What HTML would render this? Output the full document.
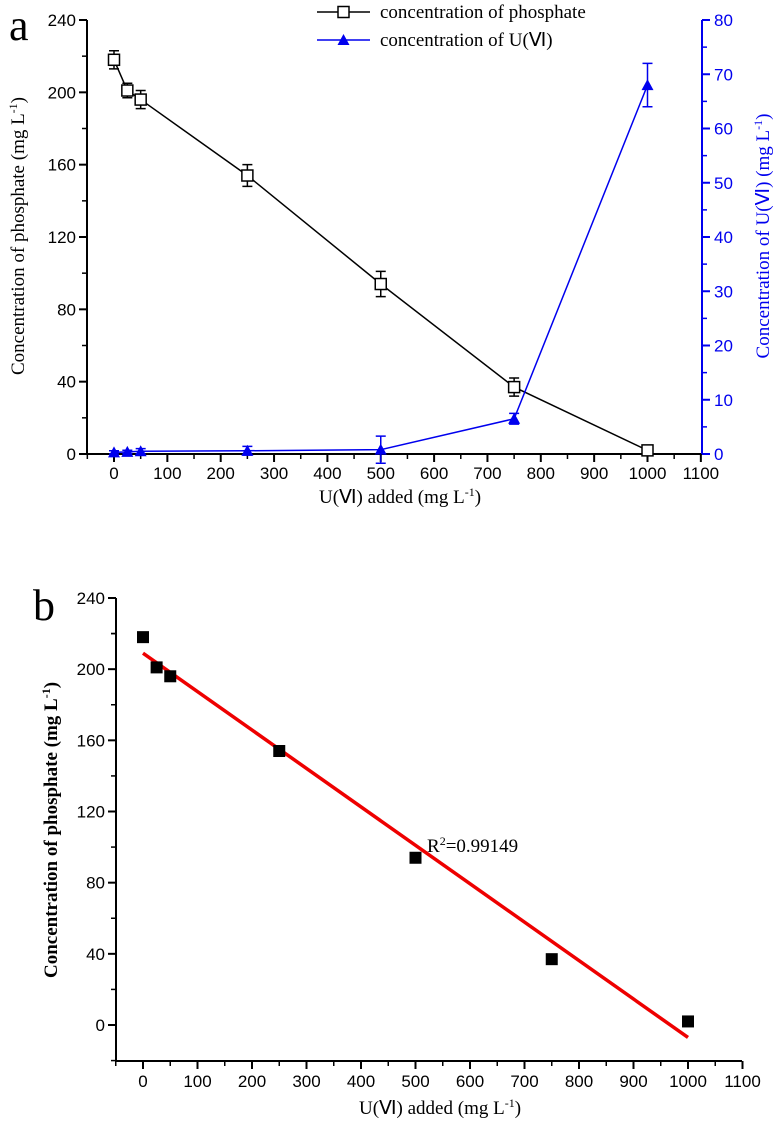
<!DOCTYPE html>
<html><head><meta charset="utf-8">
<style>
body{margin:0;background:#fff;}
svg{display:block;}
.tk{font-family:"Liberation Sans",Arial,sans-serif;font-size:17px;}
.ti{font-family:"Liberation Serif",serif;font-size:19px;}
</style></head>
<body>
<svg id="svg" width="778" height="1141" viewBox="0 0 778 1141"></svg>
<script>
const xCats=[0,25,50,250,500,750,1000];
const phosphate=[218,201,196,154,94,37,2];
const phosErr=[5,4,5,6,7,5,1];
const uranium=[0.3,0.4,0.5,0.6,0.8,6.5,68];
const uErr=[0.3,0.3,0.5,0.8,2.5,1,4];
const xTicks=[0,100,200,300,400,500,600,700,800,900,1000,1100];
const yTicks=[0,40,80,120,160,200,240];
const y2Ticks=[0,10,20,30,40,50,60,70,80];
const regStart=[0,209];
const regEnd=[1000,-7];
const r2Label="0.99149";

const NS="http://www.w3.org/2000/svg";
const svg=document.getElementById('svg');
function el(tag,attrs,parent){const e=document.createElementNS(NS,tag);for(const k in attrs)e.setAttribute(k,attrs[k]);(parent||svg).appendChild(e);return e;}

// ---- Chart a ----
const A={x0:114,xs:53.35/100,yb:454,ys:434/240,ys2:434/80,left:87,right:702};
const ax=v=>A.x0+v*A.xs, ay=v=>A.yb-v*A.ys, ay2=v=>A.yb-v*A.ys2;
const ga=el('g',{});


let t=el('text',{x:9,y:40,'font-family':'Liberation Serif,serif','font-size':44},ga);t.textContent='a';

let l=el('line',{x1:A.left,y1:ay(240),x2:A.left,y2:A.yb,stroke:'#000','stroke-width':2},ga);

l=el('line',{x1:A.left,y1:A.yb,x2:A.right,y2:A.yb,stroke:'#000','stroke-width':2},ga);

l=el('line',{x1:A.right,y1:ay(240),x2:A.right,y2:A.yb,stroke:'#0000ee','stroke-width':2},ga);

yTicks.forEach((v,i)=>{el('line',{x1:A.left-8,y1:ay(v),x2:A.left,y2:ay(v),stroke:'#000','stroke-width':2},ga);
 if(i<yTicks.length-1)el('line',{x1:A.left-5,y1:ay(v+20),x2:A.left,y2:ay(v+20),stroke:'#000','stroke-width':1.5},ga);
 const tx=el('text',{x:A.left-11,y:ay(v)+6,'text-anchor':'end',class:'tk'},ga);tx.textContent=v;
 });
y2Ticks.forEach((v,i)=>{el('line',{x1:A.right,y1:ay2(v),x2:A.right+8,y2:ay2(v),stroke:'#0000ee','stroke-width':2},ga);
 if(i<y2Ticks.length-1)el('line',{x1:A.right,y1:ay2(v+5),x2:A.right+5,y2:ay2(v+5),stroke:'#0000ee','stroke-width':1.5},ga);
 const tx=el('text',{x:A.right+12,y:ay2(v)+6,class:'tk',fill:'#0000ee'},ga);tx.textContent=v;
 });
xTicks.forEach((v,i)=>{el('line',{x1:ax(v),y1:A.yb,x2:ax(v),y2:A.yb+8,stroke:'#000','stroke-width':2},ga);
 el('line',{x1:ax(v-50),y1:A.yb,x2:ax(v-50),y2:A.yb+5,stroke:'#000','stroke-width':1.5},ga);
 const tx=el('text',{x:ax(v),y:A.yb+25,'text-anchor':'middle',class:'tk'},ga);tx.textContent=v;
 });
t=el('text',{x:400,y:503,'text-anchor':'middle',class:'ti'},ga);t.innerHTML='U(Ⅵ) added (mg L<tspan dy="-7" font-size="12">-1</tspan><tspan dy="7">)</tspan>';

t=el('text',{x:0,y:0,'text-anchor':'middle',class:'ti',transform:'translate(24,236) rotate(-90)'},ga);t.innerHTML='Concentration of phosphate (mg L<tspan dy="-7" font-size="12">-1</tspan><tspan dy="7">)</tspan>';

t=el('text',{x:0,y:0,'text-anchor':'middle',class:'ti',fill:'#0000ee',transform:'translate(769,236) rotate(-90)'},ga);t.innerHTML='Concentration of U(Ⅵ)  (mg L<tspan dy="-7" font-size="12">-1</tspan><tspan dy="7">)</tspan>';

let p=el('polyline',{points:xCats.map((x,i)=>ax(x)+','+ay(phosphate[i])).join(' '),fill:'none',stroke:'#000','stroke-width':1.5},ga);

xCats.forEach((x,i)=>{const cx=ax(x),cy=ay(phosphate[i]),e=phosErr[i]*A.ys;
 el('path',{d:`M${cx},${cy-e}V${cy+e}M${cx-5},${cy-e}H${cx+5}M${cx-5},${cy+e}H${cx+5}`,stroke:'#000','stroke-width':1.5,fill:'none'},ga);
 const r=el('rect',{x:cx-5.5,y:cy-5.5,width:11,height:11,fill:'#fff',stroke:'#000','stroke-width':1.5},ga);
 });
p=el('polyline',{points:xCats.map((x,i)=>ax(x)+','+ay2(uranium[i])).join(' '),fill:'none',stroke:'#0000ee','stroke-width':1.5},ga);

xCats.forEach((x,i)=>{const cx=ax(x),cy=ay2(uranium[i]),e=uErr[i]*A.ys2;
 el('path',{d:`M${cx},${cy-e}V${cy+e}M${cx-5},${cy-e}H${cx+5}M${cx-5},${cy+e}H${cx+5}`,stroke:'#0000ee','stroke-width':1.5,fill:'none'},ga);
 const tr=el('polygon',{points:`${cx},${cy-6} ${cx-6},${cy+5} ${cx+6},${cy+5}`,fill:'#0000ee'},ga);
 });
const lg=el('g',{},ga);
el('line',{x1:317,y1:12,x2:370,y2:12,stroke:'#000','stroke-width':1.5},lg);
el('rect',{x:338,y:6.5,width:11,height:11,fill:'#fff',stroke:'#000','stroke-width':1.5},lg);
t=el('text',{x:380,y:18,class:'ti'},lg);t.textContent='concentration of phosphate';

el('line',{x1:317,y1:40,x2:370,y2:40,stroke:'#0000ee','stroke-width':1.5},lg);
el('polygon',{points:'343.5,34 337.5,45 349.5,45',fill:'#0000ee'},lg);
t=el('text',{x:380,y:46,class:'ti'},lg);t.textContent='concentration of U(Ⅵ)';


// ---- Chart b ----
const B={x0:143,xs:54.5/100,yb:1025,ys:427/240,left:116,bottom:1061,right:742};
const bx=v=>B.x0+v*B.xs, by=v=>B.yb-v*B.ys;
const gb=el('g',{});


t=el('text',{x:33,y:620,'font-family':'Liberation Serif,serif','font-size':44},gb);t.textContent='b';

l=el('line',{x1:B.left,y1:by(240),x2:B.left,y2:B.bottom,stroke:'#000','stroke-width':2},gb);

l=el('line',{x1:B.left,y1:B.bottom,x2:B.right,y2:B.bottom,stroke:'#000','stroke-width':2},gb);

yTicks.forEach((v,i)=>{el('line',{x1:B.left-8,y1:by(v),x2:B.left,y2:by(v),stroke:'#000','stroke-width':2},gb);
 el('line',{x1:B.left-5,y1:by(v-20),x2:B.left,y2:by(v-20),stroke:'#000','stroke-width':1.5},gb);
 const tx=el('text',{x:B.left-11,y:by(v)+6,'text-anchor':'end',class:'tk'},gb);tx.textContent=v;
 });
el('line',{x1:B.left-5,y1:by(220),x2:B.left,y2:by(220),stroke:'#000','stroke-width':1.5},gb);
xTicks.forEach((v,i)=>{el('line',{x1:bx(v),y1:B.bottom,x2:bx(v),y2:B.bottom+8,stroke:'#000','stroke-width':2},gb);
 el('line',{x1:bx(v-50),y1:B.bottom,x2:bx(v-50),y2:B.bottom+5,stroke:'#000','stroke-width':1.5},gb);
 const tx=el('text',{x:bx(v),y:B.bottom+26,'text-anchor':'middle',class:'tk'},gb);tx.textContent=v;
 });
t=el('text',{x:440,y:1114,'text-anchor':'middle',class:'ti'},gb);t.innerHTML='U(Ⅵ) added (mg L<tspan dy="-7" font-size="12">-1</tspan><tspan dy="7">)</tspan>';

t=el('text',{x:0,y:0,'text-anchor':'middle',class:'ti','font-weight':'bold',transform:'translate(57,830) rotate(-90)'},gb);t.innerHTML='Concentration of phosphate (mg L<tspan dy="-7" font-size="12">-1</tspan><tspan dy="7">)</tspan>';

l=el('line',{x1:bx(regStart[0]),y1:by(regStart[1]),x2:bx(regEnd[0]),y2:by(regEnd[1]),stroke:'#ee0000','stroke-width':3.5},gb);

xCats.forEach((x,i)=>{const r=el('rect',{x:bx(x)-6,y:by(phosphate[i])-6,width:12,height:12,fill:'#000'},gb);
 });
t=el('text',{x:427,y:852,class:'ti'},gb);t.innerHTML='R<tspan dy="-7" font-size="12">2</tspan><tspan dy="7">=</tspan>'+r2Label;

</script>
</body></html>
